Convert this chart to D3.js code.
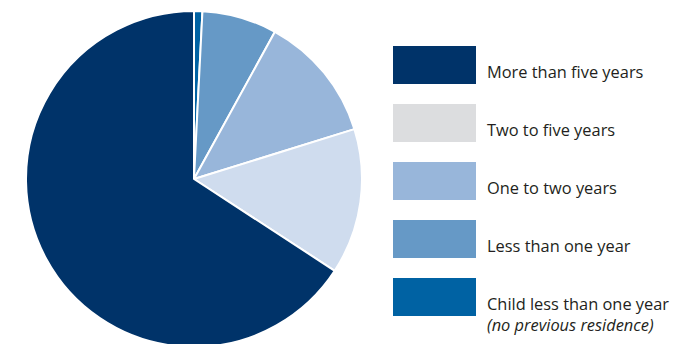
<!DOCTYPE html>
<html>
<head>
<meta charset="utf-8">
<script src="https://cdn.jsdelivr.net/npm/d3@7"></script>
<style>
  body { margin: 0; background: #fff; }
  text { font-family: 'Open Sans', sans-serif; fill: #231f20; }
</style>
</head>
<body>
<div id="chart"></div>
<script>
// slices in drawing order, clockwise from 12 o'clock
const categories = ['Child less than one year', 'Less than one year', 'One to two years', 'Two to five years', 'More than five years']
const values = [0.8, 7.2, 12.2, 14.0, 65.8]
const sliceColors = ['#0062a3', '#6699c6', '#98b6da', '#cfdcee', '#003369']

// legend, top to bottom
const legendLabels = ['More than five years', 'Two to five years', 'One to two years', 'Less than one year', 'Child less than one year']
const legendNotes = ['', '', '', '', '(no previous residence)']
const legendColors = ['#003369', '#dcdddf', '#98b6da', '#6699c6', '#0062a3']

const fullWidth = 683,
  fullHeight = 344,
  cx = 194,
  cy = 179,
  radius = 168

const svg = d3.select('#chart')
  .append('svg')
    .attr('width', fullWidth)
    .attr('height', fullHeight)

const data = categories.map((c, i) => ({ name: c, value: values[i], color: sliceColors[i] }))

const pie = d3.pie()
  .sort(null)
  .value(d => d.value)

const arc = d3.arc()
  .innerRadius(0)
  .outerRadius(radius)

svg.append('g')
  .attr('transform', `translate(${cx}, ${cy})`)
  .selectAll('path')
  .data(pie(data))
  .enter()
  .append('path')
    .attr('d', arc)
    .attr('fill', d => d.data.color)
    .attr('stroke', '#fff')
    .attr('stroke-width', 2)
    .attr('stroke-linejoin', 'round')

const legend = svg.append('g')
  .attr('transform', 'translate(393, 46)')

const item = legend.selectAll('.item')
  .data(legendLabels)
  .enter()
  .append('g')
    .attr('class', 'item')
    .attr('transform', (d, i) => `translate(0, ${i * 58})`)

item.append('rect')
  .attr('width', 83)
  .attr('height', 38)
  .attr('fill', (d, i) => legendColors[i])

item.append('text')
  .attr('x', 94)
  .attr('y', 32)
  .attr('font-size', 16.4)
  .text(d => d)

item.append('text')
  .attr('x', 94)
  .attr('y', 53)
  .attr('font-size', 16.4)
  .attr('font-style', 'italic')
  .text((d, i) => legendNotes[i])
</script>
</body>
</html>
